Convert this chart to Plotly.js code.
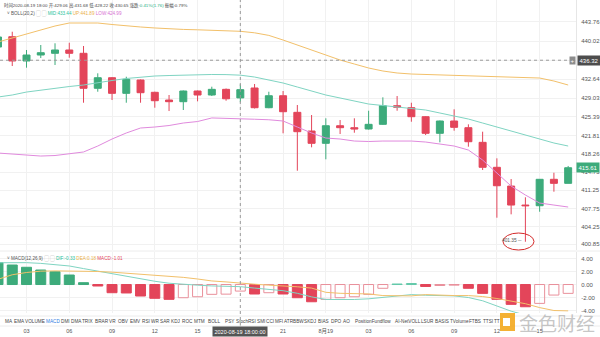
<!DOCTYPE html>
<html><head><meta charset="utf-8">
<script src="https://cdn.plot.ly/plotly-3.0.1.min.js"></script>
<style>html,body{margin:0;padding:0;background:#fff}#chart{width:600px;height:337px}</style>
</head><body><div id="chart"></div>
<script>
// ---- hourly candles (1h), index 0 is partly cut at the left edge ----
const openP  = [438.86,440.85,436.17,437.32,437.65,438.29,437.65,430.91,432.95,429.94,432.51,430.14,428.65,428.33,430.39,429.62,430.71,429.06,430.97,427.17,429.48,426.28,422.68,420.31,423.70,423.32,423.07,423.97,427.56,427.17,425.44,422.24,424.61,423.32,420.50,415.69,412.08,408.42,408.29,413.38,412.60];
const highP  = [441.56,441.81,438.29,439.25,439.58,439.69,439.06,433.80,433.05,433.14,432.60,430.25,429.62,430.48,430.48,431.22,430.87,431.68,431.74,430.25,430.39,427.69,425.76,425.13,424.80,425.13,426.59,429.17,429.42,428.13,425.53,424.70,426.86,423.97,422.55,417.42,413.43,409.91,413.43,414.65,415.95];
const lowP   = [438.29,435.20,434.88,436.74,435.40,436.80,428.13,430.25,428.65,428.13,428.13,427.17,426.53,426.73,428.40,429.42,428.52,428.22,427.02,427.07,422.24,415.03,419.54,417.23,422.10,422.35,422.97,423.87,426.59,424.47,421.91,420.50,422.74,419.66,415.17,405.98,406.63,401.35,407.13,410.99,412.60];
const closeP = [440.79,436.17,437.32,437.77,438.29,437.65,430.91,432.95,429.94,432.64,430.06,428.52,428.33,430.39,429.62,430.71,428.89,430.65,427.17,429.48,426.40,422.55,420.31,423.70,423.32,423.07,423.97,427.56,427.25,425.44,422.24,424.61,423.39,420.62,415.69,412.14,408.42,408.29,413.38,412.60,415.61];

// ---- BOLL(20,2) ----
const bollUp  = [439.83,440.60,441.37,442.14,442.91,443.49,443.55,443.49,443.20,442.91,442.72,442.53,442.33,442.25,442.18,442.10,442.00,441.89,441.60,441.10,440.21,439.25,438.29,437.32,436.36,435.59,434.82,434.24,433.86,433.66,433.57,433.47,433.37,433.28,433.18,433.08,433.08,432.99,432.89,432.31,431.54];
const bollMid = [429.23,429.62,430.19,430.58,430.97,431.25,431.54,432.03,432.41,432.80,433.08,433.28,433.37,433.47,433.53,433.57,433.55,433.44,433.08,432.51,431.93,431.16,430.39,429.62,429.04,428.46,427.88,427.59,427.30,427.11,426.73,426.15,425.57,424.99,424.22,423.45,422.68,421.91,421.14,420.37,419.79];
const bollLow = [418.44,418.25,417.96,417.86,417.96,418.25,418.64,419.79,421.14,422.30,423.26,423.45,423.74,424.22,424.51,425.20,425.15,424.99,424.95,424.85,424.61,423.45,422.30,421.33,421.14,420.75,420.66,420.75,420.75,420.75,420.56,420.18,419.79,419.02,417.09,414.59,412.08,410.35,408.81,408.42,408.04];

// ---- MACD(12,26,9) ----
const difV  = [3.35,3.38,3.36,3.25,3.10,2.85,2.45,2.05,1.60,1.20,0.85,0.50,0.20,0.00,-0.10,-0.22,-0.30,-0.33,-0.55,-0.75,-0.95,-1.35,-1.90,-2.30,-2.35,-2.30,-2.20,-1.95,-1.70,-1.55,-1.65,-1.70,-1.75,-2.00,-2.50,-3.30,-4.10,-4.70,-5.00,-4.90,-4.75];
const deaV  = [0.80,1.50,1.85,2.05,2.10,2.10,2.05,2.00,1.90,1.75,1.60,1.45,1.30,1.10,0.85,0.55,0.40,0.18,0.05,-0.10,-0.20,-0.35,-0.55,-1.20,-1.35,-1.40,-1.45,-1.70,-1.72,-1.75,-1.55,-1.65,-1.70,-1.70,-1.85,-2.15,-2.55,-2.95,-3.55,-4.00,-4.05];
const histV = [3.35,3.00,2.65,2.23,1.97,1.46,0.28,-0.23,-1.26,-1.30,-1.77,-2.12,-2.28,-2.03,-1.88,-1.51,-1.48,-1.01,-1.46,-1.26,-1.46,-2.03,-2.65,-2.28,-2.03,-1.88,-1.51,-0.58,0.08,0.15,-0.30,-0.15,-0.10,-0.58,-1.36,-2.28,-3.05,-3.42,-2.90,-1.62,-1.36];

// ---- axis labels ----
const gridIdx  = [2,5,8,11,14,17,20,23,26,29,32,35,38];
const timeIdx  = [2,5,8,11,14,20,23,26,29,32,35,38];
const timeText = ['03','06','09','12','15','21','8月19','03','06','09','12','15'];
const priceTicks = [443.76,440.02,436.36,432.64,429.03,425.39,421.81,418.26,414.75,411.25,407.75,404.25,400.85];
const priceTickText = ['443.76','440.02','','432.64','429.03','425.39','421.81','418.26','414.75','411.25','407.75','404.25','400.85'];
const macdTicks  = [4,2,0,-2,-4];
const crossIdx = 17;
const crossPrice = 436.32;
const crossTime = '2020-08-19 18:00';
const amplitudeText = '0.79%';

// ---- indicator tab bar ----
const indNames = ['MA','EMA','VOLUME','MACD','DMI','DMA','TRIX','BRAR','VR','OBV','EMV','RSI','WR','SAR','KDJ','ROC','MTM','BOLL','PSY','StochRSI','SMI','CCI','MFI','ATR','BBW','SKDJ','BIAS','DPO','AO','PositionFundflow','AI-NetVOLL','LSUR','BASIS','TVolume','FTBS','TTSI','TT'];
const indCenter = [9,19,34.5,52.5,65,76,87.5,101.5,112.5,123,135,146,155,165,175.5,187,199,214,229.5,246,260.5,270,279,288.5,298.5,310,323.5,336.5,346.5,373,408,427,442,459,475,488,497];
const activeInd = 'MACD';

const idx = openP.map((_, i) => i);
const GREEN = '#3dab7b', RED = '#e3455a', RED_H = '#e9909b', GREEN_H = '#62c9a9';
const UPC = '#f2c06a', MIDC = '#7fd4c2', LOWC = '#e08add';
const W = 576;
const py = v => 1 - v / 337;

// histogram colours: growing magnitude -> filled, shrinking -> hollow
const hFill = [], hLine = [];
histV.forEach((v, i) => {
  const p = i > 0 ? histV[i - 1] : v + 1;
  if (v >= 0) {
    const hollow = i > 0 && v > p;
    hFill.push(hollow ? 'rgba(255,255,255,0)' : GREEN); hLine.push(hollow ? GREEN_H : GREEN);
  } else {
    const hollow = i > 0 && v > p && p < 0;
    hFill.push(hollow ? 'rgba(255,255,255,0)' : RED); hLine.push(hollow ? RED_H : RED);
  }
});

const traces = [
  {type:'candlestick', x:idx, open:openP, high:highP, low:lowP, close:closeP,
   xaxis:'x', yaxis:'y', hoverinfo:'skip', whiskerwidth:0,
   increasing:{line:{color:GREEN, width:1}, fillcolor:GREEN},
   decreasing:{line:{color:RED, width:1}, fillcolor:RED}},
  {type:'scatter', mode:'lines', x:idx, y:bollUp, xaxis:'x', yaxis:'y', line:{color:UPC, width:1}, hoverinfo:'skip'},
  {type:'scatter', mode:'lines', x:idx, y:bollMid, xaxis:'x', yaxis:'y', line:{color:MIDC, width:1}, hoverinfo:'skip'},
  {type:'scatter', mode:'lines', x:idx, y:bollLow, xaxis:'x', yaxis:'y', line:{color:LOWC, width:1}, hoverinfo:'skip'},
  {type:'bar', x:idx, y:histV, xaxis:'x2', yaxis:'y2', marker:{color:hFill, line:{color:hLine, width:1}}, hoverinfo:'skip'},
  {type:'scatter', mode:'lines', x:idx, y:difV, xaxis:'x2', yaxis:'y2', line:{color:MIDC, width:1}, hoverinfo:'skip'},
  {type:'scatter', mode:'lines', x:idx, y:deaV, xaxis:'x2', yaxis:'y2', line:{color:UPC, width:1}, hoverinfo:'skip'}
];

const xr = [0.14, 40.55];
const f2 = v => v.toFixed(2);

const ann = [];
const txt = (x, y, text, size, color, anchor) => ann.push({xref:'paper', yref:'paper', x:x, y:y, text:text, showarrow:false, xanchor:anchor || 'left', yanchor:'middle', borderpad:0, font:{size:size, color:color, family:'Arial, "Noto Sans CJK SC"'}});

// header line
const chg = closeP[crossIdx] - closeP[crossIdx - 1];
txt(3/W, py(6), `时间${crossTime} 开:${f2(openP[crossIdx])} 高:${f2(highP[crossIdx])} 低:${f2(lowP[crossIdx])} 收:${f2(closeP[crossIdx])} 涨跌:<span style="color:#1fae83">${f2(chg/closeP[crossIdx-1]*100)}%(${f2(chg)})</span> 振幅:${amplitudeText}`, 4.4, '#444');
txt(6/W, py(14), `˅ BOLL(20,2) <span style="color:#aaa">▢ ▢</span> <span style="color:#2bbf9b">MID:${f2(bollMid[crossIdx])}</span> <span style="color:#eab14a">UP:${f2(bollUp[crossIdx])}</span> <span style="color:#d66fd2">LOW:${f2(bollLow[crossIdx])}</span>`, 4.6, '#555');
txt(6/W, py(258), `˅ MACD(12,26,9) <span style="color:#aaa">▢ ▢</span> <span style="color:#2bbf9b">DIF:${f2(difV[crossIdx])}</span> <span style="color:#eab14a">DEA:${f2(deaV[crossIdx])}</span> <span style="color:#e3455a">MACD:${f2(histV[crossIdx])}</span>`, 4.6, '#555');

// indicator bar
indNames.forEach((n, i) => txt(indCenter[i]/W, py(321), n, 4.7, n === activeInd ? '#2f7de1' : '#444', 'center'));

// right axis markers
ann.push({xref:'paper', yref:'y', x:1, y:crossPrice, text:f2(crossPrice), showarrow:false, xanchor:'left', yanchor:'middle', xshift:1, bgcolor:'#4d4d4d', borderpad:1.5, font:{size:6, color:'#fff', family:'Arial'}});
ann.push({xref:'paper', yref:'y', x:1, y:crossPrice, text:'+', showarrow:false, xanchor:'right', yanchor:'middle', xshift:0, bgcolor:'#8c8c8c', borderpad:0.5, font:{size:6, color:'#fff', family:'Arial'}});
ann.push({xref:'paper', yref:'y', x:1, y:closeP[closeP.length-1], text:f2(closeP[closeP.length-1]), showarrow:false, xanchor:'left', yanchor:'middle', xshift:0, bgcolor:GREEN, borderpad:1.5, font:{size:6, color:'#fff', family:'Arial'}});
// crosshair time label
ann.push({xref:'x', yref:'paper', x:crossIdx, y:py(331), text:crossTime + ':00', showarrow:false, xanchor:'center', yanchor:'middle', bgcolor:'#555', borderpad:1.5, font:{size:5.5, color:'#fff', family:'Arial'}});
// lowest point label
const minI = lowP.indexOf(Math.min(...lowP));
ann.push({xref:'x', yref:'y', x:minI, y:lowP[minI], text:f2(lowP[minI]) + ' ─', showarrow:false, xanchor:'right', yanchor:'middle', xshift:-1, yshift:1, font:{size:4.8, color:'#555', family:'Arial'}});
// watermark
ann.push({xref:'paper', yref:'paper', x:517/W, y:py(322.5), text:'金色财经', showarrow:false, xanchor:'left', yanchor:'middle', font:{size:19, color:'rgba(150,150,150,0.55)', family:'"Noto Sans CJK SC"'}});

const shapes = [
  {type:'line', xref:'x', yref:'paper', x0:crossIdx, x1:crossIdx, y0:py(326), y1:1, line:{color:'#9a9a9a', width:1, dash:'dot'}},
  {type:'line', xref:'paper', yref:'y', x0:0, x1:1, y0:crossPrice, y1:crossPrice, line:{color:'#9a9a9a', width:1, dash:'dot'}},
  {type:'line', xref:'paper', yref:'paper', x0:0, x1:600/W, y0:py(251), y1:py(251), line:{color:'#ececec', width:1}},
  {type:'line', xref:'paper', yref:'paper', x0:0, x1:600/W, y0:py(316), y1:py(316), line:{color:'#ececec', width:1}},
  {type:'line', xref:'paper', yref:'paper', x0:0, x1:600/W, y0:py(326), y1:py(326), line:{color:'#ececec', width:1}},
  {type:'circle', xref:'paper', yref:'paper', x0:503/W, x1:534/W, y0:py(250), y1:py(233), line:{color:'#d42b2b', width:1}},
  {type:'rect', xref:'paper', yref:'paper', x0:500/W, x1:515/W, y0:py(331), y1:py(313), fillcolor:'rgba(243,168,30,0.9)', line:{width:0}},
  {type:'rect', xref:'paper', yref:'paper', x0:503/W, x1:510/W, y0:py(326), y1:py(318), fillcolor:'#fff', line:{width:0}}
];

const axFont = {size:6, color:'#555', family:'Arial'};
const layout = {
  width:600, height:337, margin:{l:0, r:24, t:0, b:0},
  paper_bgcolor:'#fff', plot_bgcolor:'#fff', showlegend:false, dragmode:false,
  bargap:0.3, boxgap:0.3,
  xaxis:{domain:[0,1], range:xr, anchor:'y', tickvals:gridIdx, showticklabels:false, ticks:'', showgrid:true, gridcolor:'#f1f1f1', zeroline:false, fixedrange:true, rangeslider:{visible:false}},
  yaxis:{domain:[py(250),1], range:[399.76,447.92], side:'right', anchor:'x', tickvals:priceTicks, ticktext:priceTickText, ticks:'', ticklabelstandoff:3, showgrid:true, gridcolor:'#f1f1f1', showline:true, linecolor:'#e6e6e6', zeroline:false, tickfont:axFont, fixedrange:true},
  xaxis2:{domain:[0,1], matches:'x', anchor:'y2', tickvals:timeIdx, ticktext:timeText, ticks:'', showgrid:true, gridcolor:'#f1f1f1', zeroline:false, ticklabelstandoff:13, tickfont:{size:5.5, color:'#555', family:'Arial, "Noto Sans CJK SC"'}, fixedrange:true},
  yaxis2:{domain:[py(313),py(252)], range:[-4.38,5.0], side:'right', anchor:'x2', tickvals:macdTicks, ticktext:macdTicks.map(f2), ticks:'', ticklabelstandoff:3, showgrid:true, gridcolor:'#f1f1f1', showline:true, linecolor:'#e6e6e6', zeroline:false, tickfont:axFont, fixedrange:true},
  shapes:shapes, annotations:ann
};
Plotly.newPlot('chart', traces, layout, {displayModeBar:false, staticPlot:true});
</script></body></html>
